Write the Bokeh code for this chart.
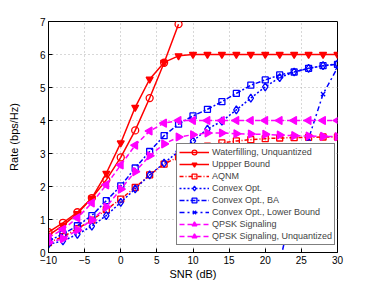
import math
from bokeh.plotting import figure
from bokeh.models import Legend, LegendItem, Range1d, FixedTicker
from bokeh.embed import file_html
from bokeh.resources import INLINE

snr = [-10, -8, -6, -4, -2, 0, 2, 4, 6, 8, 10, 12, 14, 16, 18, 20, 22, 24, 26, 28, 30]

snr_wf = [-10, -8, -6, -4, -2, 0, 2, 4, 6, 8]
waterfilling = [0.62, 0.9, 1.22, 1.65, 2.2, 2.88, 3.7, 4.68, 5.75, 6.92]

upper_bound = [0.52, 0.82, 1.18, 1.65, 2.4, 3.32, 4.4, 5.25, 5.76, 5.96, 6.0,
               6.0, 6.0, 6.0, 6.0, 6.0, 6.0, 6.0, 6.0, 6.0, 6.0]

aqnm = [0.3, 0.48, 0.72, 0.98, 1.3, 1.62, 1.97, 2.35, 2.68, 2.9, 3.08,
        3.22, 3.32, 3.38, 3.42, 3.45, 3.47, 3.48, 3.49, 3.5, 3.5]

convex = [0.25, 0.35, 0.55, 0.8, 1.12, 1.52, 1.93, 2.35, 2.71, 3.06, 3.38,
          3.74, 3.98, 4.32, 4.68, 5.02, 5.3, 5.47, 5.58, 5.66, 5.72]

convex_ba = [0.35, 0.56, 0.81, 1.12, 1.57, 2.02, 2.56, 3.06, 3.54, 3.89, 4.14,
             4.34, 4.57, 4.82, 5.07, 5.23, 5.38, 5.47, 5.58, 5.66, 5.7]

snr_lb = [22, 24, 26, 28, 30]
convex_lb = [-0.3, 1.6, 3.45, 4.8, 5.6]

qpsk = [0.3, 0.42, 0.68, 0.98, 1.38, 1.92, 2.45, 2.93, 3.29, 3.5, 3.57,
        3.62, 3.62, 3.6, 3.59, 3.58, 3.56, 3.54, 3.53, 3.52, 3.51]

qpsk_unq = [0.45, 0.7, 1.05, 1.5, 2.05, 2.65, 3.25, 3.68, 3.92, 4.0, 4.0,
            4.0, 4.0, 4.0, 4.0, 4.0, 4.0, 4.0, 4.0, 4.0, 4.0]

x_ticks = [-10, -5, 0, 5, 10, 15, 20, 25, 30]
y_ticks = [0, 1, 2, 3, 4, 5, 6, 7]

RED = "#FF0000"
BLUE = "#0000FF"
MAG = "#FF00FF"
FONT = "Liberation Sans"

p = figure(width=374, height=283, output_backend="svg", toolbar_location=None,
           x_range=Range1d(-10, 30), y_range=Range1d(0, 7),
           min_border_left=48, min_border_right=37, min_border_top=21, min_border_bottom=31)
p.background_fill_color = "white"
p.border_fill_color = "white"
p.outline_line_color = "black"
p.outline_line_width = 1

for ax in (p.xaxis[0], p.yaxis[0]):
    ax.major_tick_in = 4
    ax.major_tick_out = 0
    ax.minor_tick_line_color = None
    ax.axis_line_color = "black"
    ax.major_tick_line_color = "black"
    ax.major_label_text_font = FONT
    ax.major_label_text_font_size = "10px"
    ax.major_label_text_color = "black"
    ax.axis_label_text_font = FONT
    ax.axis_label_text_font_size = "11px"
    ax.axis_label_text_font_style = "normal"
    ax.axis_label_text_color = "black"
    ax.major_label_standoff = 3

p.xaxis[0].axis_label_standoff = 1
p.yaxis[0].axis_label_standoff = 17

p.xaxis.ticker = FixedTicker(ticks=x_ticks)
p.yaxis.ticker = FixedTicker(ticks=y_ticks)
p.xaxis.axis_label = "SNR (dB)"
p.yaxis.axis_label = "Rate (bps/Hz)"

for g in (p.xgrid[0], p.ygrid[0]):
    g.grid_line_color = "#b0b0b0"
    g.grid_line_dash = "1 3"
    g.grid_line_width = 1
p.xgrid.ticker = FixedTicker(ticks=x_ticks)
p.ygrid.ticker = FixedTicker(ticks=y_ticks)

items = []

def series(x, y, color, dash, marker, label, size=6, fill=None, angle=0.0, lw=1.5):
    r1 = p.line(x, y, line_color=color, line_width=lw, line_dash=dash)
    r2 = p.scatter(x, y, marker=marker, size=size, line_color=color, line_width=1.3,
                   fill_color=fill if fill else "white", fill_alpha=1 if fill else 0,
                   angle=angle)
    items.append(LegendItem(label=label, renderers=[r1, r2]))

series(snr_wf, waterfilling, RED, "solid", "circle", "Waterfilling, Unquantized", size=7)
series(snr, upper_bound, RED, "solid", "inverted_triangle", "Uppper Bound", size=7, fill=RED)
series(snr, aqnm, RED, "4 2 1 2", "square", "AQNM", size=6)
series(snr, convex, BLUE, "2 2", "diamond", "Convex Opt.", size=8)
series(snr, convex_ba, BLUE, "5 2 2 2", "square", "Convex Opt., BA", size=6)
series(snr_lb, convex_lb, BLUE, "5 3 2 3", "x", "Convex Opt., Lower Bound", size=6)
series(snr, qpsk, MAG, "5 3", "triangle", "QPSK Signaling", size=8, fill=MAG, angle=-math.pi / 2)
series(snr, qpsk_unq, MAG, "5 3", "triangle", "QPSK Signaling, Unquantized", size=8, fill=MAG, angle=math.pi / 2)

legend = Legend(items=items, location=(128, 7), margin=0, padding=2, spacing=0,
                glyph_width=30, glyph_height=12, label_height=12, label_standoff=3,
                label_text_font=FONT, label_text_font_size="9px",
                border_line_color="black", border_line_width=1,
                background_fill_color="white", background_fill_alpha=1)
p.add_layout(legend)

open("out.html", "w").write(file_html(p, INLINE))
